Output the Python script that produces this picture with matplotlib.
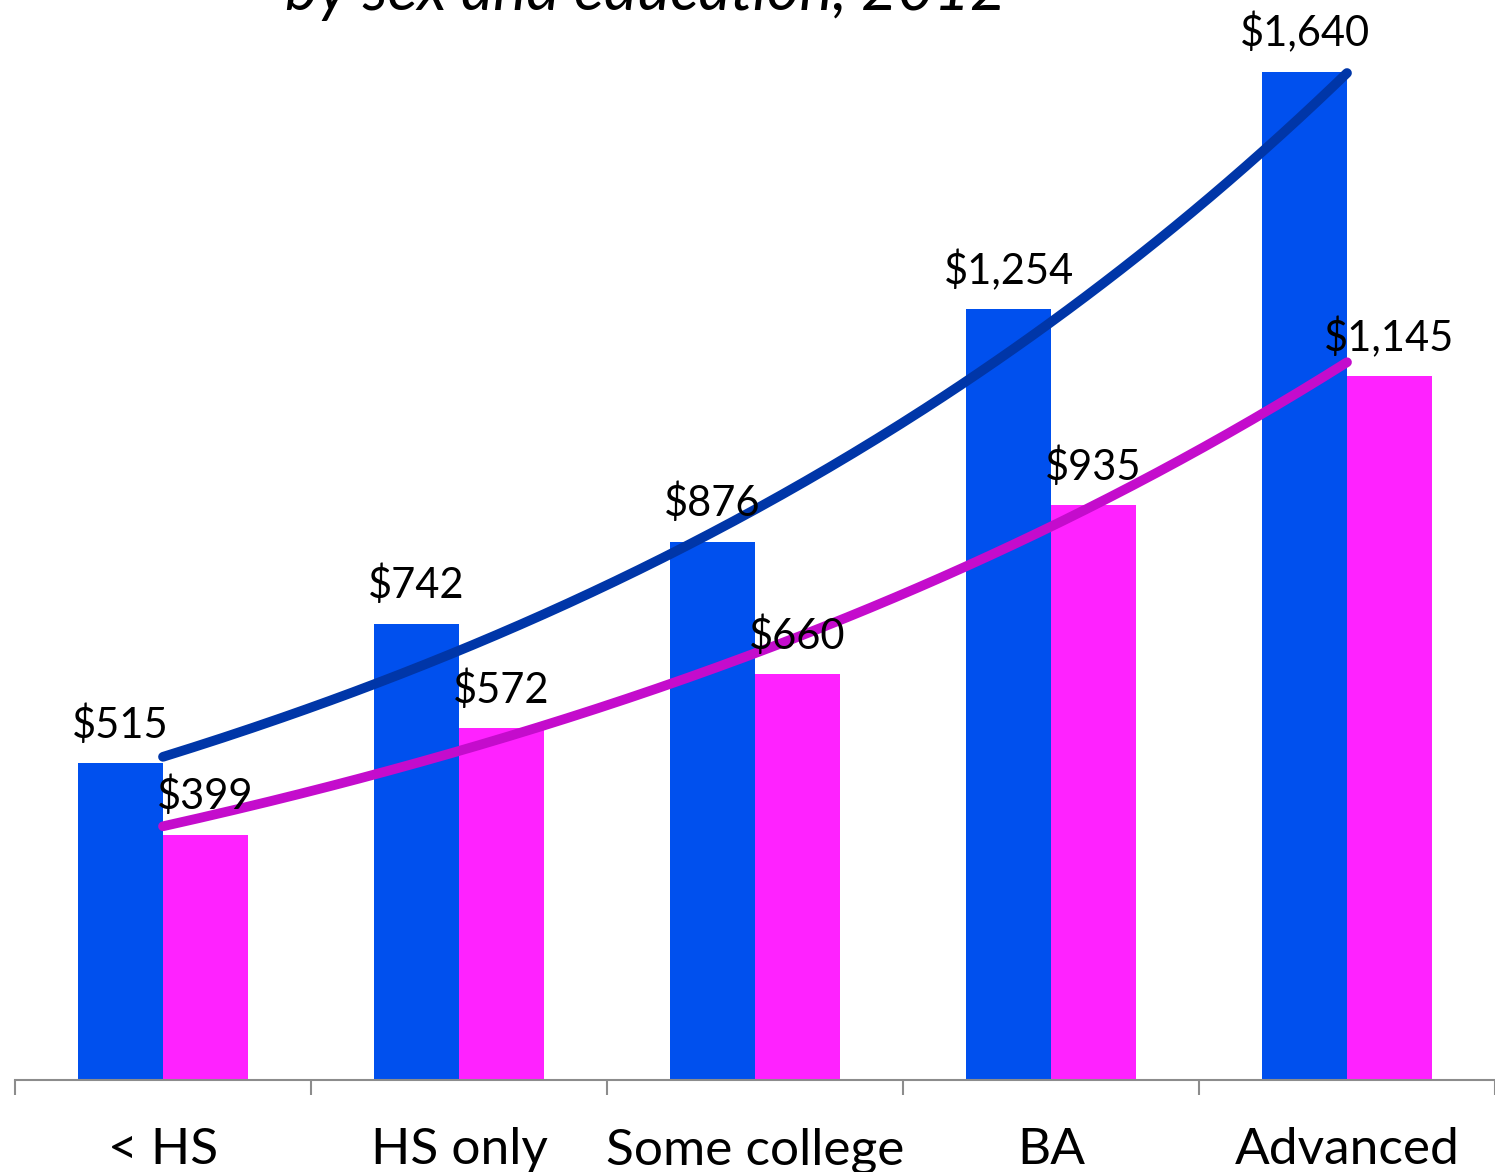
import matplotlib.pyplot as plt
import numpy as np

categories = ["< HS", "HS only", "Some college", "BA", "Advanced"]
men = [515, 742, 876, 1254, 1640]
women = [399, 572, 660, 935, 1145]

plt.rcParams['font.family'] = ['Lato', 'DejaVu Sans']

fig = plt.figure(figsize=(14.95, 11.72), dpi=100)
ax = fig.add_axes([15 / 1495, 0.0785, 1 - 15 / 1495, 1 - 0.0785])

x = np.arange(1, len(categories) + 1)
w = 0.287
ax.bar(x - w / 2, men, w, color="#0050EE", zorder=2)
ax.bar(x + w / 2, women, w, color="#FF22FF", zorder=2)

# exponential trendlines, like Excel puts on the series
xs = np.linspace(1, 5, 200)
for vals, col in [(men, "#0036A8"), (women, "#C40CCC")]:
    b, a = np.polyfit(x, np.log(vals), 1)
    ax.plot(xs, np.exp(a + b * xs), color=col, lw=7, solid_capstyle="round", zorder=3)

for i in range(len(categories)):
    ax.text(x[i] - w / 2, men[i] + 30, f"${men[i]:,}", ha="center", va="bottom",
            fontsize=30, zorder=4)
    ax.text(x[i] + w / 2, women[i] + 30, f"${women[i]:,}", ha="center", va="bottom",
            fontsize=30, zorder=4)

ax.set_xlim(0.5, 5.5)
ax.set_ylim(0, 1757)
for s in ["left", "right", "top"]:
    ax.spines[s].set_visible(False)
ax.spines["bottom"].set_color("#8C8C8C")
ax.spines["bottom"].set_linewidth(1.5)
ax.set_yticks([])
ax.set_xticks(x)
ax.set_xticklabels(categories, fontsize=37)
ax.tick_params(axis="x", which="major", length=0, pad=34)
ax.set_xticks(np.arange(0.5, 6, 1), minor=True)
ax.tick_params(axis="x", which="minor", length=11, width=1.5, color="#8C8C8C")

# title sits partly above the top edge, as in the source image
fig.text(0.432, 1 - 10 / 1172, "by sex and education, 2012", ha="center",
         va="baseline", fontsize=45, style="italic")

fig.savefig("out.png", dpi=100)
